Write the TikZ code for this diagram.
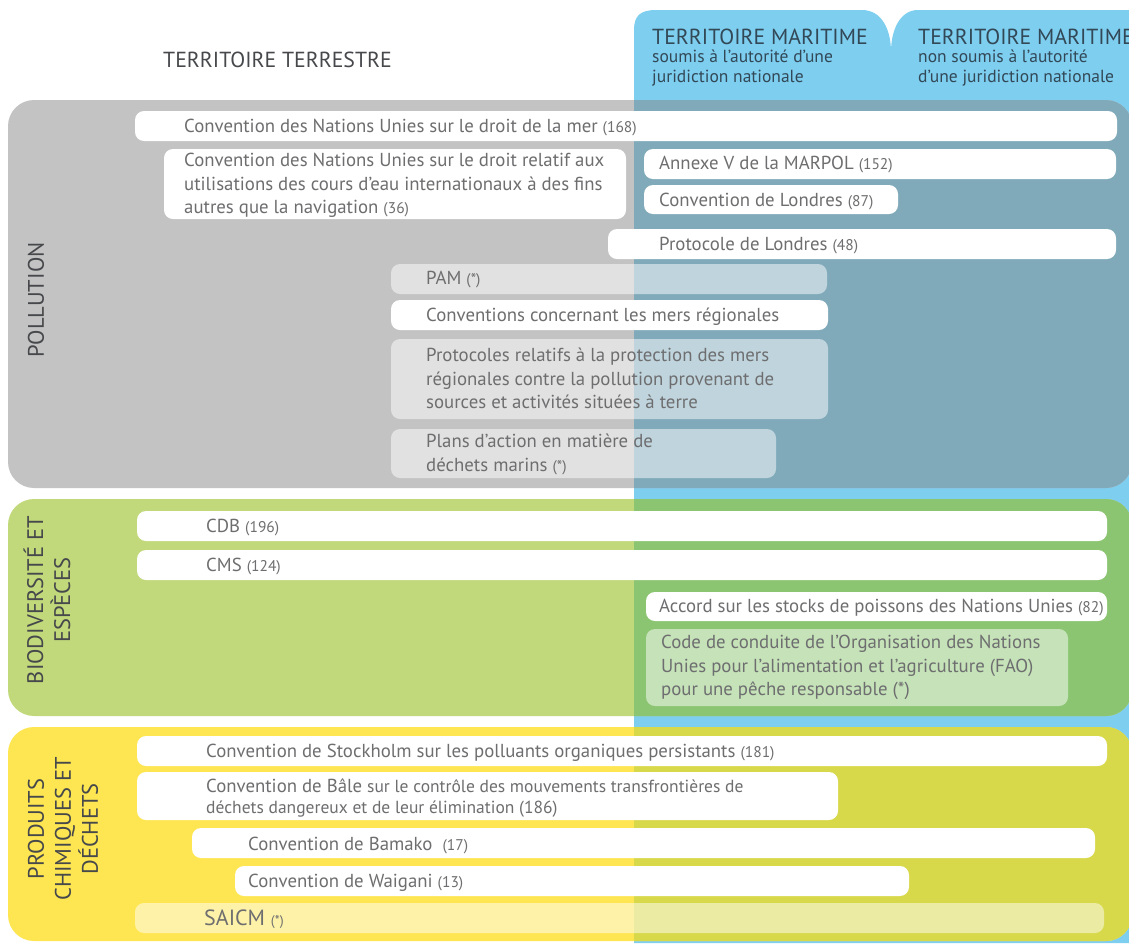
\documentclass[tikz,border=0pt]{standalone}
\usepackage{fontspec}
\setmainfont{PT Sans}

\definecolor{seablue}{RGB}{126,206,240}
\definecolor{landgray}{RGB}{195,195,195}
\definecolor{seagray}{RGB}{128,170,186}
\definecolor{landgreen}{RGB}{193,217,122}
\definecolor{seagreen}{RGB}{139,197,113}
\definecolor{landyellow}{RGB}{254,230,82}
\definecolor{seayellow}{RGB}{215,216,74}
\definecolor{txtgray}{RGB}{110,110,112}
\definecolor{headgray}{RGB}{70,72,75}
\definecolor{headslate}{RGB}{50,72,86}

\newcommand{\nparties}[1]{{\fontsize{15.5}{18}\selectfont #1}}

\begin{document}
\begin{tikzpicture}[x=1pt,y=-1pt,
  pill/.style={fill=white, rounded corners=9pt},
  ghost/.style={fill=white, fill opacity=0.5, rounded corners=9pt},
  txt/.style={anchor=west, inner sep=0pt, align=left, text=txtgray, yshift=-1.5pt,
    font=\fontsize{18.8}{23.5}\selectfont},
  side/.style={rotate=90, inner sep=0pt, align=center, text=headgray,
    font=\fontsize{22.5}{27}\selectfont},
  head/.style={anchor=west, inner sep=0pt, font=\fontsize{21.8}{24}\selectfont},
  subhead/.style={anchor=north west, inner sep=0pt, align=left, text=headslate,
    font=\fontsize{17.5}{20}\selectfont}]
\useasboundingbox (0,0) rectangle (1129,943);

% sea behind everything
\fill[seablue] (634,943) -- (634,30) .. controls (634,16) and (640,10) .. (656,10)
  -- (862,10) .. controls (882,10) and (891,30) .. (891,52)
  .. controls (891,30) and (900,10) .. (918,10) -- (1140,10) -- (1140,943) -- cycle;

% the three bands, land part and sea part
\foreach \ytop/\ybot/\cl/\cr in {100/488/landgray/seagray,
    499/716/landgreen/seagreen, 727/941/landyellow/seayellow}{
  \fill[\cl, rounded corners=26pt] (8,\ytop) rectangle (1132,\ybot);
  \begin{scope}
    \clip (634,\ytop) rectangle (1140,\ybot);
    \fill[\cr, rounded corners=26pt] (8,\ytop) rectangle (1132,\ybot);
  \end{scope}
}

% headers
\node[head, text=headgray] (land) at (163,60) {TERRITOIRE TERRESTRE};
\node[head, text=headslate] (seain) at (652,37) {TERRITOIRE MARITIME};
\node[subhead] (seainsub) at (652,50) {soumis à l’autorité d’une\\juridiction nationale};
\node[head, text=headslate] (seaout) at (918,37) {TERRITOIRE MARITIME};
\node[subhead] (seaoutsub) at (918,50) {non soumis à l’autorité\\d’une juridiction nationale};

% side labels
\node[side] (pollution) at (36,300) {POLLUTION};
\node[side] (biodiv) at (47,600) {BIODIVERSITÉ ET\\ESPÈCES};
\node[side] (chem) at (63,829) {PRODUITS\\CHIMIQUES ET\\DÉCHETS};

% pollution
\fill[pill] (135,111) rectangle (1117,141);
\node[txt] (unclos) at (184,126) {Convention des Nations Unies sur le droit de la mer \nparties{(168)}};
\fill[pill] (164,149) rectangle (626,219);
\node[txt] (watercourses) at (184,184) {Convention des Nations Unies sur le droit relatif aux\\utilisations des cours d’eau internationaux à des fins\\autres que la navigation \nparties{(36)}};
\fill[pill] (644,149) rectangle (1116,179);
\node[txt] (marpol) at (659,163) {Annexe V de la MARPOL \nparties{(152)}};
\fill[pill] (644,185) rectangle (898,214);
\node[txt] (london) at (659,200) {Convention de Londres \nparties{(87)}};
\fill[pill] (608,229) rectangle (1116,259);
\node[txt] (londonprot) at (659,244) {Protocole de Londres \nparties{(48)}};
\fill[ghost] (391,264) rectangle (827,294);
\node[txt] (pam) at (426,278) {PAM \nparties{(*)}};
\fill[pill] (391,300) rectangle (828,330);
\node[txt] (regseas) at (426,315) {Conventions concernant les mers régionales};
\fill[ghost] (391,339) rectangle (828,419);
\node[txt] (lbsa) at (426,377) {Protocoles relatifs à la protection des mers\\régionales contre la pollution provenant de\\sources et activités situées à terre};
\fill[ghost] (391,429) rectangle (776,478);
\node[txt] (litter) at (426,453) {Plans d’action en matière de\\déchets marins \nparties{(*)}};

% biodiversity
\fill[pill] (137,511) rectangle (1107,541);
\node[txt] (cbd) at (206,526) {CDB \nparties{(196)}};
\fill[pill] (137,550) rectangle (1107,580);
\node[txt] (cms) at (206,565) {CMS \nparties{(124)}};
\fill[pill] (646,592) rectangle (1107,621);
\node[txt] (unfsa) at (659,606) {Accord sur les stocks de poissons des Nations Unies \nparties{(82)}};
\fill[ghost] (646,629) rectangle (1068,706);
\node[txt] (fao) at (661,666) {Code de conduite de l’Organisation des Nations\\Unies pour l’alimentation et l’agriculture (FAO)\\pour une pêche responsable (*)};

% chemicals and waste
\fill[pill] (137,772) rectangle (838,820);
\fill[pill] (137,736) rectangle (1107,766);
\node[txt] (stockholm) at (206,751) {Convention de Stockholm sur les polluants organiques persistants \nparties{(181)}};
\node[txt, font=\fontsize{18.8}{21}\selectfont] (basel) at (206,797) {Convention de Bâle {\fontsize{17.5}{21}\selectfont sur le contrôle des mouvements transfrontières de}\\{\fontsize{17.5}{21}\selectfont déchets dangereux et de leur élimination (186)}};
\fill[pill] (192,828) rectangle (1095,858);
\node[txt] (bamako) at (248,844) {Convention de Bamako~~\nparties{(17)}};
\fill[pill] (235,866) rectangle (909,896);
\node[txt] (waigani) at (248,881) {Convention de Waigani \nparties{(13)}};
\fill[ghost] (135,903) rectangle (1104,933);
\node[txt, font=\fontsize{22}{24}\selectfont] (saicm) at (204,918) {SAICM {\fontsize{14}{16}\selectfont(*)}};
\end{tikzpicture}
\end{document}
